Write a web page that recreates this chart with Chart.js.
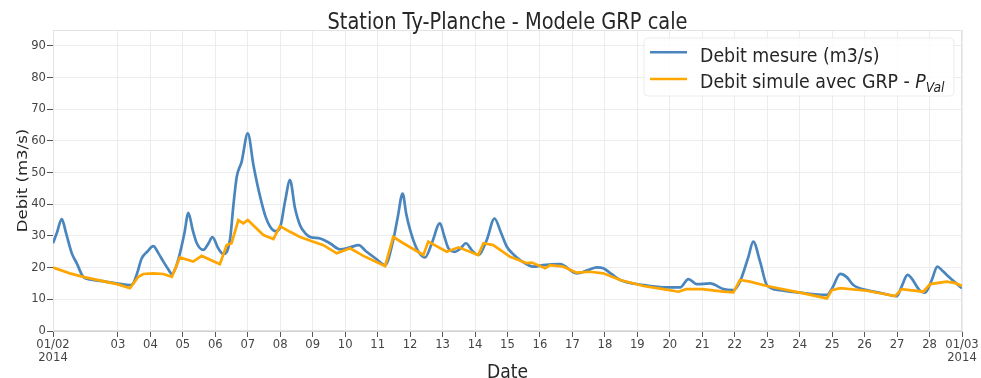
<!DOCTYPE html>
<html>
<head>
<meta charset="utf-8">
<script src="https://cdn.jsdelivr.net/npm/chart.js@4.4.1/dist/chart.umd.min.js"></script>
<style>
html,body{margin:0;padding:0;background:#fff;}
#wrap{width:981px;height:378px;position:relative;}
</style>
</head>
<body>
<div id="wrap"><canvas id="c" width="981" height="378"></canvas></div>
<script>
// Time is expressed in days since 01/02/2014 00:00
const measuredDays = [0,0.12,0.27,0.4,0.58,0.73,0.93,1.14,1.6,2.0,2.37,2.47,2.6,2.73,2.9,3.09,3.25,3.4,3.55,3.66,3.78,3.91,4.05,4.17,4.3,4.43,4.63,4.78,4.91,5.09,5.25,5.45,5.56,5.66,5.81,6.0,6.18,6.38,6.55,6.69,6.85,6.99,7.15,7.3,7.45,7.61,7.76,7.92,8.23,8.53,8.84,9.15,9.41,9.66,9.95,10.23,10.48,10.62,10.77,10.88,11.0,11.2,11.46,11.67,11.92,12.05,12.18,12.38,12.55,12.72,12.9,13.1,13.36,13.6,13.8,13.98,14.2,14.39,14.8,15.1,15.62,16.13,16.5,16.75,16.95,17.2,17.47,18.19,18.8,19.32,19.57,19.83,20.24,20.65,20.96,21.16,21.42,21.57,21.78,21.99,22.4,23.01,23.84,24.0,24.25,24.45,24.65,25.07,25.5,25.99,26.14,26.32,26.71,26.86,27.07,27.24,27.38,27.53,28.0];
const measuredValues = [27.7,31,35.3,31,24.5,21.4,17.1,16.3,15.6,15,14.5,15,18.5,22.9,25,26.8,24.5,21.9,19.5,18,20,24.5,31,37.3,32,27.7,25.6,27.5,29.6,26.1,24.3,28.7,40,48.7,53.4,62.4,52,42.4,36,32.9,31.5,32.5,41,47.6,39,33.4,31,29.7,29.2,27.7,25.8,26.4,27.1,25,22.8,20.8,28.7,36,43.4,37,31.9,26.1,23.2,27.7,34,30,26.1,25,26,27.7,25.5,24,28.7,35.5,31,26.6,24,22.4,20.3,20.8,21.1,18.2,19.3,20.1,19.8,18,16.1,14.5,13.8,13.8,16.4,14.8,15,13.2,12.9,15.6,23.4,28.2,21.9,14.5,12.9,12.1,11.4,13.5,18,17,14.5,12.9,12,11,14,17.7,12.7,12.1,16.1,20.3,19.2,17.7,13.5];

const simulatedDays = [0,0.52,0.93,1.5,2.0,2.37,2.63,2.78,3.09,3.4,3.66,3.91,4.32,4.58,5.14,5.35,5.5,5.71,5.86,6.0,6.48,6.79,6.99,7.3,7.61,8.02,8.33,8.74,9.15,9.56,10.23,10.48,10.79,11.41,11.56,12.13,12.49,13.1,13.26,13.56,14.08,14.59,14.75,15.16,15.31,15.72,16.13,16.54,16.95,17.47,18.19,18.8,19.27,19.5,20.0,20.65,20.96,21.16,21.47,21.99,23.01,23.84,23.99,24.25,25.07,25.94,26.14,26.81,27.02,27.53,27.8,28.0];
const simulatedValues = [20,18.2,17.1,15.8,14.7,13.5,17.1,18,18.2,18,17.1,23.2,21.9,23.7,21.1,27.1,27.7,35,34,35,30.3,29,33.1,31.3,29.7,28.2,27.1,24.5,26.1,23.7,20.5,29.7,27.7,24,28.2,25,26.4,24,27.7,27.1,23.4,21.4,21.6,19.8,20.8,20.3,18.4,18.7,18.2,16.1,14.2,13.2,12.4,13.2,13.2,12.4,12.2,16.1,15.6,14.2,12.1,10.3,12.9,13.5,12.7,11,13.2,12.4,14.8,15.6,15.1,14.2];

const xTickLabels = ['01/02\n2014','','03','04','05','06','07','08','09','10','11','12','13','14','15','16','17','18','19','20','21','22','23','24','25','26','27','28','01/03\n2014'];
const yTickValues = [0,10,20,30,40,50,60,70,80,90];

const seriesLabels = ['Debit mesure (m3/s)', 'Debit simule avec GRP - '];
const titleText = 'Station Ty-Planche - Modele GRP cale';
const xTitle = 'Date';
const yTitle = 'Debit (m3/s)';

const BLUE = '#4a86bd';
const ORANGE = '#ffa600';
const FONT = '"DejaVu Sans", sans-serif';
const SY = 1.15; // vertical stretch of the reference lettering

const toPts = (xs, ys) => xs.map((x, i) => ({x: x, y: ys[i]}));

function stretchedText(ctx, text, x, baseline, font, align) {
  ctx.save();
  ctx.font = font;
  ctx.textAlign = align || 'left';
  ctx.textBaseline = 'alphabetic';
  ctx.translate(x, baseline);
  ctx.scale(1, SY);
  ctx.fillText(text, 0, 0);
  const w = ctx.measureText(text).width;
  ctx.restore();
  return w;
}

const decor = {
  id: 'decor',
  beforeDatasetsDraw(chart) {
    const {ctx, chartArea: a} = chart;
    ctx.save();
    ctx.strokeStyle = '#e3e3e3';
    ctx.lineWidth = 1;
    ctx.strokeRect(a.left + 0.5, a.top + 0.5, a.right - a.left - 1, a.bottom - a.top - 1);
    ctx.restore();
  },
  afterDraw(chart) {
    const {ctx, chartArea: a} = chart;
    const cx = (a.left + a.right) / 2;
    ctx.save();
    ctx.fillStyle = '#262626';
    stretchedText(ctx, titleText, cx, 29.3, '19.4px ' + FONT, 'center');
    stretchedText(ctx, xTitle, cx, 378, '17.2px ' + FONT, 'center');
    // y title
    ctx.save();
    ctx.translate(27, (a.top + a.bottom) / 2);
    ctx.scale(1, SY);
    ctx.rotate(-Math.PI / 2);
    ctx.font = '14.4px ' + FONT;
    ctx.textAlign = 'center';
    ctx.textBaseline = 'alphabetic';
    ctx.fillText(yTitle, 0, 0);
    ctx.restore();

    // legend
    const bx = 644, by = 38, bw = 310, bh = 58, r = 4;
    ctx.fillStyle = 'rgba(255,255,255,0.85)';
    ctx.strokeStyle = '#ececec';
    ctx.lineWidth = 1;
    ctx.beginPath();
    ctx.moveTo(bx + r, by);
    ctx.arcTo(bx + bw, by, bx + bw, by + bh, r);
    ctx.arcTo(bx + bw, by + bh, bx, by + bh, r);
    ctx.arcTo(bx, by + bh, bx, by, r);
    ctx.arcTo(bx, by, bx + bw, by, r);
    ctx.closePath();
    ctx.fill();
    ctx.stroke();

    const items = chart.data.datasets;
    const lineY = [52.3, 79];
    const baseY = [61.6, 88.3];
    items.forEach((ds, i) => {
      ctx.strokeStyle = ds.borderColor;
      ctx.lineWidth = 2.6;
      ctx.lineCap = 'butt';
      ctx.beginPath();
      ctx.moveTo(650, lineY[i]);
      ctx.lineTo(687, lineY[i]);
      ctx.stroke();
      ctx.fillStyle = '#262626';
      const w = stretchedText(ctx, ds.label, 700, baseY[i], '17.4px ' + FONT);
      if (i === 1) {
        const wp = stretchedText(ctx, 'P', 700 + w, baseY[i], 'italic 17.4px ' + FONT);
        stretchedText(ctx, 'Val', 700 + w + wp, baseY[i] + 3.5, 'italic 12.4px ' + FONT);
      }
    });
    ctx.restore();
  }
};

new Chart(document.getElementById('c'), {
  type: 'line',
  data: {
    datasets: [
      {
        label: seriesLabels[0],
        data: toPts(measuredDays, measuredValues),
        borderColor: BLUE,
        backgroundColor: BLUE,
        borderWidth: 2.7,
        pointRadius: 0,
        cubicInterpolationMode: 'monotone',
        fill: false,
        order: 2
      },
      {
        label: seriesLabels[1],
        data: toPts(simulatedDays, simulatedValues),
        borderColor: ORANGE,
        backgroundColor: ORANGE,
        borderWidth: 2.7,
        pointRadius: 0,
        tension: 0,
        fill: false,
        order: 1
      }
    ]
  },
  options: {
    responsive: false,
    animation: false,
    events: [],
    layout: {padding: {left: 0, right: 19, top: 30, bottom: 0}},
    plugins: {legend: {display: false}, title: {display: false}, tooltip: {enabled: false}},
    scales: {
      x: {
        type: 'linear',
        min: 0,
        max: xTickLabels.length - 1,
        afterBuildTicks(scale) {
          scale.ticks = xTickLabels.map((l, i) => ({value: i})).filter(t => xTickLabels[t.value] !== '');
        },
        afterFit(scale) { scale.height = 47; },
        grid: {color: '#ececec', tickColor: '#555', tickLength: 6, drawTicks: true},
        border: {display: true, color: '#d0d0d0'},
        ticks: {
          autoSkip: false,
          maxRotation: 0,
          padding: 1,
          color: '#444',
          font: {family: FONT, size: 11.6, lineHeight: 1.15},
          callback(v) { const l = xTickLabels[Math.round(v)]; return l ? l.split('\n') : ''; }
        }
      },
      y: {
        min: 0,
        max: 95,
        afterBuildTicks(scale) { scale.ticks = yTickValues.map(v => ({value: v})); },
        afterFit(scale) { scale.width = 53; },
        grid: {color: '#ececec', tickColor: '#555', tickLength: 6, drawTicks: true},
        border: {display: true, color: '#d0d0d0'},
        ticks: {
          padding: 1,
          color: '#444',
          font: {family: FONT, size: 11.6}
        }
      }
    }
  },
  plugins: [decor]
});
</script>
</body>
</html>
